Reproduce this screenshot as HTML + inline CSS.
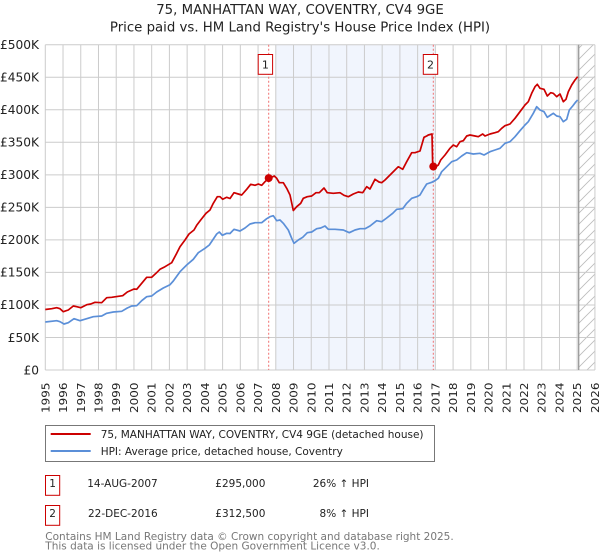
<!DOCTYPE html>
<html><head><meta charset="utf-8"><style>
html,body{margin:0;padding:0;background:#fff;}
svg{display:block;font-family:"DejaVu Sans","Liberation Sans",sans-serif;}
</style></head><body>
<svg width="600" height="560" viewBox="0 0 600 560" xmlns="http://www.w3.org/2000/svg">
<defs>
<pattern id="hatch" patternUnits="userSpaceOnUse" width="11" height="11">
<path d="M0,11 L11,0 M-2,2 L2,-2 M9,13 L13,9" stroke="#bbb" stroke-width="0.8"/>
</pattern>
</defs>
<rect width="600" height="560" fill="#fff"/>
<!-- title -->
<text x="300" y="14" text-anchor="middle" font-size="13.3" fill="#222">75, MANHATTAN WAY, COVENTRY, CV4 9GE</text>
<text x="300" y="31.5" text-anchor="middle" font-size="13.3" fill="#222">Price paid vs. HM Land Registry's House Price Index (HPI)</text>

<!-- shaded region -->
<rect x="275.79" y="44.7" width="159.57" height="325.3" fill="#f1f5fd"/>
<!-- hatch -->
<rect x="578.7" y="44.7" width="16.23" height="325.3" fill="url(#hatch)"/>

<!-- grid -->
<g stroke="#cccccc" stroke-width="1" fill="none">
<path d="M45.3,44.7H594.93M45.3,77.23H594.93M45.3,109.76H594.93M45.3,142.29H594.93M45.3,174.82H594.93M45.3,207.35H594.93M45.3,239.88H594.93M45.3,272.41H594.93M45.3,304.94H594.93M45.3,337.47H594.93M45.3,370H594.93"/>
<path d="M45.3,44.7V370M63.03,44.7V370M80.76,44.7V370M98.49,44.7V370M116.22,44.7V370M133.95,44.7V370M151.68,44.7V370M169.41,44.7V370M187.14,44.7V370M204.87,44.7V370M222.6,44.7V370M240.33,44.7V370M258.06,44.7V370M275.79,44.7V370M293.52,44.7V370M311.25,44.7V370M328.98,44.7V370M346.71,44.7V370M364.44,44.7V370M382.17,44.7V370M399.9,44.7V370M417.63,44.7V370M435.36,44.7V370M453.09,44.7V370M470.82,44.7V370M488.55,44.7V370M506.28,44.7V370M524.01,44.7V370M541.74,44.7V370M559.47,44.7V370M577.2,44.7V370M594.93,44.7V370"/>
</g>
<line x1="578.7" y1="44.7" x2="578.7" y2="370" stroke="#999" stroke-width="1.3"/>

<!-- sale dashed lines -->
<g stroke="#f07070" stroke-width="1" stroke-dasharray="2,2">
<line x1="268.7" y1="44.7" x2="268.7" y2="370"/>
<line x1="433.3" y1="44.7" x2="433.3" y2="370"/>
</g>

<!-- HPI line -->
<polyline fill="none" stroke="#5b8fd8" stroke-width="1.7" stroke-linejoin="round" points="45.3,322 56.7,320.7 60,321.7 64,324 68.3,322.7 74,318.7 80,320.7 86.7,318.7 93.3,316.7 101.7,316 106.7,313.3 113.3,312 121.7,311.3 127.3,308 131.7,306 136.7,305.7 141.7,300.7 146.7,296.7 151.7,296 156.7,292 163.3,288 170,284.7 173.3,281 180,271.7 186.7,265 193.3,259.3 198.3,252.7 205,248.3 209.3,245 212.7,240 216.7,234 219.3,232 222.3,235.3 226.7,233.3 230,233.5 234,229.3 240,231 245,228 250,224 255,222.7 261.7,222.7 266.7,218.7 270,216.7 273.3,215.7 276.7,220.7 280,220 283.3,223.3 288.3,230 291.7,238.3 294,243.3 298.3,240 302.7,237.3 307.3,232.7 311.7,232 316.7,228.7 320.7,228 325,226 328.3,229.3 335,229.3 343.3,230 349.3,232.7 355,230 360,228.7 365,228.7 370,226 376.7,220.7 381.7,221.7 386.7,218 392.7,213.3 396.7,209.3 402.7,208.7 406.7,203.3 411.7,198.3 416.7,196.7 420,195 423.3,189.3 426.7,184 431.7,182.3 435,180.7 438.3,178.3 441.7,171.7 446.7,166.7 451.7,161.7 456.7,160 461.7,156 466.7,152.7 473.3,154 480,153.3 484,155 490,151.7 495,150 500,148.3 505,143.3 510,141.7 515,136.7 520,130.7 525,125 528.3,121.7 533.3,113.3 536.7,106.7 540,110 544,111.7 547.3,117.3 550.7,115 553.3,113.3 556.7,116 560,116.7 563.3,121.7 566.7,119.3 569.3,110 572.7,106 576,101.7 577.7,100"/>

<!-- price paid line -->
<polyline fill="none" stroke="#cc0000" stroke-width="1.7" stroke-linejoin="round" points="45.3,309.5 51.7,308.7 56.7,307.7 60,308.7 63.3,311.7 68.3,310 73.3,306 76.7,306.7 80.7,307.7 86.7,304.7 90.7,304 95,302.3 101.7,302.7 106.7,297.7 111.7,297.3 118.3,296.3 122.7,295.7 127.3,292 134,289 136.7,289.3 141.7,283.3 146.7,277.3 151.7,277.3 156,273.3 160,269.3 165,266.7 171.7,262.7 176.7,253.3 180,246.7 185,240 189,234 194,230 196.7,225.3 200.7,220 206,213.3 210,210 213.3,203.3 217.3,196.7 220,196.7 222.7,199.3 226.7,197.3 230,198.5 234,192.7 238.3,194 241.7,195 246.7,189.3 250.7,184.3 255,185.3 258.3,184 261.7,185.3 265,181.7 268.7,178.1 271.7,177.3 274.3,176 276.7,178.3 279.3,182.7 283.3,182.7 286.7,188.3 290,195 293.3,210.5 296.7,206.7 300.7,203.3 303.3,198.3 307.3,196.7 311.7,196 316,192.7 319.3,192.7 324,188 327.3,192.7 333.3,193.3 340,192.7 344,195.3 348.3,196.7 353.3,194 358.3,192 362.7,192.7 366.7,186.7 370,189 375,179.3 379,182 381.7,182.7 385,180 390,175 395,170 398.3,166.7 402.7,169.3 406.7,161.7 411.7,152.7 415,152.7 420,151 424,137.3 426.7,136 428.3,135 432,134 432.7,166 433.3,166.5 435,167.3 438.3,165 440.7,160 445,155 450,148.3 453.3,145 456.7,146.7 460,141.7 463.3,140.7 466.7,136 470,135 475,136 478.3,136.7 482.7,134 485,136 490,134 495,132.7 498.3,131.7 501.7,128.3 505,125.7 510,124 515,118.3 520,111.7 525,105 528.3,101.7 531.7,93.3 535,86.7 537.3,84.3 540,88.3 544,89.3 547.3,96 550.7,92.7 553.3,93.3 556.7,96.7 560,94 563.3,101.7 566,99.3 568.3,91.7 571.7,85 575,80 577.7,76.7"/>

<!-- sale markers -->
<circle cx="268.7" cy="178.1" r="4" fill="#cc0000"/>
<circle cx="433.3" cy="166.5" r="4" fill="#cc0000"/>

<!-- sale label boxes -->
<rect x="258.2" y="54.5" width="14.4" height="19.8" fill="#fff" stroke="#cc0000" stroke-width="1"/>
<text x="265.4" y="68.3" text-anchor="middle" font-size="11" fill="#222">1</text>
<rect x="423.3" y="54.5" width="14.4" height="19.8" fill="#fff" stroke="#cc0000" stroke-width="1"/>
<text x="430.5" y="68.3" text-anchor="middle" font-size="11" fill="#222">2</text>

<!-- y labels -->
<g font-size="12.2" fill="#222" text-anchor="end">
<text x="39" y="49">£500K</text>
<text x="39" y="81.5">£450K</text>
<text x="39" y="114">£400K</text>
<text x="39" y="146.6">£350K</text>
<text x="39" y="179.1">£300K</text>
<text x="39" y="211.6">£250K</text>
<text x="39" y="244.2">£200K</text>
<text x="39" y="276.7">£150K</text>
<text x="39" y="309.2">£100K</text>
<text x="39" y="341.8">£50K</text>
<text x="39" y="374.3">£0</text>
</g>

<!-- x labels -->
<g font-size="11" fill="#222">
<text transform="translate(49.3,413) rotate(-90)" textLength="30.5" lengthAdjust="spacingAndGlyphs">1995</text>
<text transform="translate(67.03,413) rotate(-90)" textLength="30.5" lengthAdjust="spacingAndGlyphs">1996</text>
<text transform="translate(84.76,413) rotate(-90)" textLength="30.5" lengthAdjust="spacingAndGlyphs">1997</text>
<text transform="translate(102.49,413) rotate(-90)" textLength="30.5" lengthAdjust="spacingAndGlyphs">1998</text>
<text transform="translate(120.22,413) rotate(-90)" textLength="30.5" lengthAdjust="spacingAndGlyphs">1999</text>
<text transform="translate(137.95,413) rotate(-90)" textLength="30.5" lengthAdjust="spacingAndGlyphs">2000</text>
<text transform="translate(155.68,413) rotate(-90)" textLength="30.5" lengthAdjust="spacingAndGlyphs">2001</text>
<text transform="translate(173.41,413) rotate(-90)" textLength="30.5" lengthAdjust="spacingAndGlyphs">2002</text>
<text transform="translate(191.14,413) rotate(-90)" textLength="30.5" lengthAdjust="spacingAndGlyphs">2003</text>
<text transform="translate(208.87,413) rotate(-90)" textLength="30.5" lengthAdjust="spacingAndGlyphs">2004</text>
<text transform="translate(226.6,413) rotate(-90)" textLength="30.5" lengthAdjust="spacingAndGlyphs">2005</text>
<text transform="translate(244.33,413) rotate(-90)" textLength="30.5" lengthAdjust="spacingAndGlyphs">2006</text>
<text transform="translate(262.06,413) rotate(-90)" textLength="30.5" lengthAdjust="spacingAndGlyphs">2007</text>
<text transform="translate(279.79,413) rotate(-90)" textLength="30.5" lengthAdjust="spacingAndGlyphs">2008</text>
<text transform="translate(297.52,413) rotate(-90)" textLength="30.5" lengthAdjust="spacingAndGlyphs">2009</text>
<text transform="translate(315.25,413) rotate(-90)" textLength="30.5" lengthAdjust="spacingAndGlyphs">2010</text>
<text transform="translate(332.98,413) rotate(-90)" textLength="30.5" lengthAdjust="spacingAndGlyphs">2011</text>
<text transform="translate(350.71,413) rotate(-90)" textLength="30.5" lengthAdjust="spacingAndGlyphs">2012</text>
<text transform="translate(368.44,413) rotate(-90)" textLength="30.5" lengthAdjust="spacingAndGlyphs">2013</text>
<text transform="translate(386.17,413) rotate(-90)" textLength="30.5" lengthAdjust="spacingAndGlyphs">2014</text>
<text transform="translate(403.9,413) rotate(-90)" textLength="30.5" lengthAdjust="spacingAndGlyphs">2015</text>
<text transform="translate(421.63,413) rotate(-90)" textLength="30.5" lengthAdjust="spacingAndGlyphs">2016</text>
<text transform="translate(439.36,413) rotate(-90)" textLength="30.5" lengthAdjust="spacingAndGlyphs">2017</text>
<text transform="translate(457.09,413) rotate(-90)" textLength="30.5" lengthAdjust="spacingAndGlyphs">2018</text>
<text transform="translate(474.82,413) rotate(-90)" textLength="30.5" lengthAdjust="spacingAndGlyphs">2019</text>
<text transform="translate(492.55,413) rotate(-90)" textLength="30.5" lengthAdjust="spacingAndGlyphs">2020</text>
<text transform="translate(510.28,413) rotate(-90)" textLength="30.5" lengthAdjust="spacingAndGlyphs">2021</text>
<text transform="translate(528.01,413) rotate(-90)" textLength="30.5" lengthAdjust="spacingAndGlyphs">2022</text>
<text transform="translate(545.74,413) rotate(-90)" textLength="30.5" lengthAdjust="spacingAndGlyphs">2023</text>
<text transform="translate(563.47,413) rotate(-90)" textLength="30.5" lengthAdjust="spacingAndGlyphs">2024</text>
<text transform="translate(581.2,413) rotate(-90)" textLength="30.5" lengthAdjust="spacingAndGlyphs">2025</text>
<text transform="translate(598.93,413) rotate(-90)" textLength="30.5" lengthAdjust="spacingAndGlyphs">2026</text>
</g>

<!-- legend -->
<rect x="45.5" y="425.5" width="389" height="36" fill="#fff" stroke="#777" stroke-width="1"/>
<line x1="50.7" y1="434" x2="90.7" y2="434" stroke="#cc0000" stroke-width="2"/>
<line x1="50.7" y1="451" x2="90.7" y2="451" stroke="#5b8fd8" stroke-width="2"/>
<g font-size="10.5" fill="#222">
<text x="100.7" y="438.2">75, MANHATTAN WAY, COVENTRY, CV4 9GE (detached house)</text>
<text x="100.7" y="455">HPI: Average price, detached house, Coventry</text>
</g>

<!-- table -->
<rect x="45.5" y="475.5" width="14.2" height="19.8" fill="#fff" stroke="#cc0000" stroke-width="1"/>
<rect x="45.5" y="505.5" width="14.2" height="19.8" fill="#fff" stroke="#cc0000" stroke-width="1"/>
<g font-size="10.5" fill="#222">
<text x="52.6" y="487" text-anchor="middle">1</text>
<text x="157.7" y="487" text-anchor="end">14-AUG-2007</text>
<text x="265.4" y="487" text-anchor="end">£295,000</text>
<text x="369" y="487" text-anchor="end">26% ↑ HPI</text>
<text x="52.6" y="517" text-anchor="middle">2</text>
<text x="157.7" y="517" text-anchor="end">22-DEC-2016</text>
<text x="265.4" y="517" text-anchor="end">£312,500</text>
<text x="369" y="517" text-anchor="end">8% ↑ HPI</text>
</g>

<!-- footer -->
<g font-size="10.5" fill="#777">
<text x="45.3" y="539.8">Contains HM Land Registry data © Crown copyright and database right 2025.</text>
<text x="45.3" y="549.3">This data is licensed under the Open Government Licence v3.0.</text>
</g>
</svg>
</body></html>
